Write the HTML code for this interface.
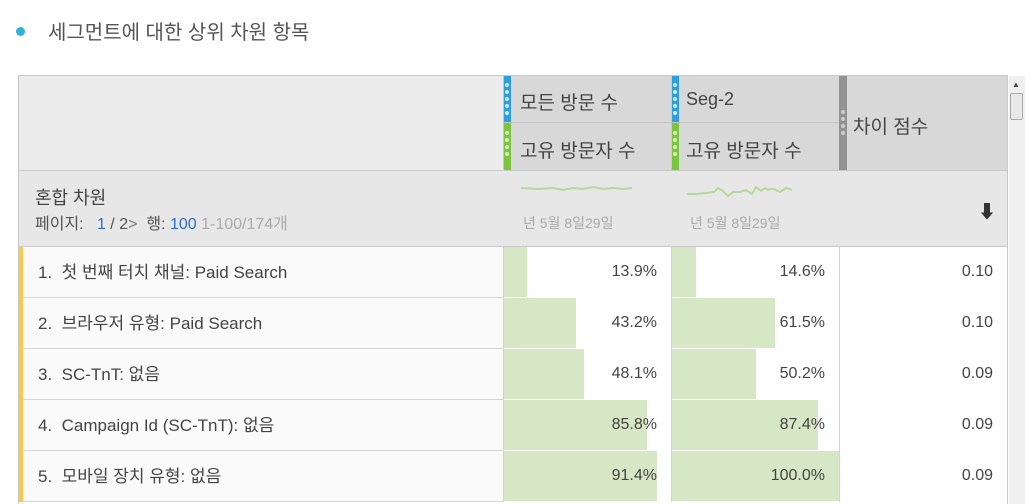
<!DOCTYPE html>
<html><head><meta charset="utf-8">
<style>
body{margin:0;width:1029px;height:504px;overflow:hidden;background:#fff;font-family:"Liberation Sans","Noto Sans CJK KR",sans-serif;color:#4b4b4b;position:relative}
.abs{position:absolute}
.cell{position:absolute;box-sizing:border-box}
.dots{position:absolute;width:4px;}
.dots i{display:block;width:4px;height:4px;border-radius:50%;background:#cfe8ff;margin-bottom:3px}
</style></head><body>
<div class="abs" style="left:16px;top:27px;width:9px;height:9px;border-radius:50%;background:#2fb5d3"></div>
<div class="abs" style="left:48px;top:16px;font-size:20px;color:#555">세그먼트에 대한 상위 차원 항목</div>
<div id="tbl" class="abs" style="left:18px;top:75px;width:990px;height:429px;border:1px solid #c8c8c8;border-bottom:none;box-sizing:border-box"></div>
<div class="cell" style="left:19px;top:76px;width:484px;height:94px;background:#ececec"></div>
<div class="cell" style="left:503px;top:76px;width:168px;height:94px;background:#d8d8d8;border-left:1px solid #c8c8c8"></div>
<div class="cell" style="left:671px;top:76px;width:168px;height:94px;background:#d8d8d8;border-left:1px solid #c8c8c8"></div>
<div class="cell" style="left:839px;top:76px;width:168px;height:94px;background:#d8d8d8;border-left:1px solid #c8c8c8"></div>
<div class="abs" style="left:503px;top:122px;width:336px;height:1px;background:#c4c4c4"></div>
<div class="abs" style="left:504px;top:76px;width:7px;height:46px;background:#2d9fdc"></div>
<div class="abs" style="left:504px;top:123px;width:7px;height:47px;background:#7cc63f"></div>
<div class="abs" style="left:672px;top:76px;width:7px;height:46px;background:#2d9fdc"></div>
<div class="abs" style="left:672px;top:123px;width:7px;height:47px;background:#7cc63f"></div>
<div class="abs" style="left:839px;top:76px;width:8px;height:94px;background:#939393"></div>
<div class="dots" style="left:505px;top:83px"><i></i><i></i><i></i><i></i><i></i></div>
<div class="dots" style="left:505px;top:131px"><i style="background:#d8f0c0"></i><i style="background:#d8f0c0"></i><i style="background:#d8f0c0"></i><i style="background:#d8f0c0"></i></div>
<div class="dots" style="left:673px;top:83px"><i></i><i></i><i></i><i></i><i></i></div>
<div class="dots" style="left:673px;top:131px"><i style="background:#d8f0c0"></i><i style="background:#d8f0c0"></i><i style="background:#d8f0c0"></i><i style="background:#d8f0c0"></i></div>
<div class="dots" style="left:841px;top:110px"><i style="background:#ccc"></i><i style="background:#ccc"></i><i style="background:#ccc"></i><i style="background:#ccc"></i></div>
<div class="abs" style="left:520px;top:88px;font-size:19px;color:#444">모든 방문 수</div>
<div class="abs" style="left:520px;top:136px;font-size:19px;color:#444">고유 방문자 수</div>
<div class="abs" style="left:686px;top:89px;font-size:18px;color:#444">Seg-2</div>
<div class="abs" style="left:686px;top:136px;font-size:19px;color:#444">고유 방문자 수</div>
<div class="abs" style="left:853px;top:112px;font-size:19px;color:#444">차이 점수</div>
<div class="cell" style="left:19px;top:170px;width:988px;height:77px;background:#e7e7e7;border-top:1px solid #c8c8c8;border-bottom:1px solid #c8c8c8"></div>
<div class="abs" style="left:35px;top:184px;font-size:18px;color:#444">혼합 차원</div>
<div class="abs" style="left:35px;top:210px;font-size:16px;color:#555;white-space:nowrap">페이지: &nbsp; <span style="color:#2d6fc8">1</span> / 2<span style="color:#777">&gt;</span> &nbsp;행: <span style="color:#2d6fc8">100</span> <span style="color:#aaa">1-100/174개</span></div>
<svg class="abs" style="left:518px;top:180px" width="300" height="20">
<polyline fill="none" stroke="#b5d99a" stroke-width="2" points="3,8 20,9 35,8 45,10 55,8 65,9 75,7 85,9 95,8 105,9 114,8"/>
<polyline fill="none" stroke="#b5d99a" stroke-width="2" points="169,14 178,14 188,13 196,12 200,8 205,11 210,16 215,12 222,12 228,10 234,14 238,7 243,11 247,8 250,10 252,9 256,9 262,12 268,8 274,10"/>
</svg>
<div class="abs" style="left:523px;top:213px;font-size:14px;color:#aaa">년 5월 8일29일</div>
<div class="abs" style="left:690px;top:213px;font-size:14px;color:#aaa">년 5월 8일29일</div>
<div class="abs" style="left:978px;top:198px;font-size:18px;color:#333">⬇</div>
<div id="rows"></div>
<div class="abs" style="left:1009px;top:76px;width:16px;height:428px;background:#f0f0f0"></div>
<div class="abs" style="left:1012px;top:80px;font-size:8px;color:#444">▲</div>
<div class="abs" style="left:1010px;top:93px;width:13px;height:27px;background:#e8e8e8;border:1px solid #aaa;border-radius:2px;box-sizing:border-box"></div>
<script>
const labels=["첫 번째 터치 채널: Paid Search","브라우저 유형: Paid Search","SC-TnT: 없음","Campaign Id (SC-TnT): 없음","모바일 장치 유형: 없음"];
const seg1=[13.9,43.2,48.1,85.8,91.4];
const seg2=[14.6,61.5,50.2,87.4,100.0];
const diff=["0.10","0.10","0.09","0.09","0.09"];
const rows=document.getElementById('rows');
const top0=247,rh=51,cw=168;
function mk(css){const d=document.createElement('div');d.className='cell';d.style.cssText=css;rows.appendChild(d);return d;}
labels.forEach((lab,i)=>{
  const y=top0+i*rh;
  const r=mk(`left:19px;top:${y}px;width:988px;height:${rh}px;background:#fafafa;border-bottom:1px solid #d4d4d4`);
  
  
  const acc=mk(`left:19px;top:${y}px;width:4px;height:${rh}px;background:#f8c94a`);
  
  
  const t=mk(`left:38px;top:${y+11}px;font-size:17px;color:#444;white-space:pre`);
  t.textContent=(i+1)+'.  '+lab;
  
  
  [[seg1,503],[seg2,671]].forEach(([arr,x],k)=>{
    const c=mk(`left:${x}px;top:${y}px;width:${cw}px;height:${rh}px;border-left:1px solid #d4d4d4;background:#fff`);
    
    
    const b=mk(`left:${x+1}px;top:${y}px;width:${(cw-1)*arr[i]/100}px;height:${rh-1}px;background:#d5e7c5`);
    
    
    const v=mk(`left:${x}px;top:${y+16}px;width:${cw-14}px;text-align:right;font-size:16px;color:#444`);
    v.textContent=arr[i].toFixed(1)+'%';
    
    
  });
  const d=mk(`left:839px;top:${y}px;width:168px;height:${rh}px;border-left:1px solid #d4d4d4;background:#fff`);
  
  
  const dv=mk(`left:839px;top:${y+16}px;width:154px;text-align:right;font-size:16px;color:#444`);
  dv.textContent=diff[i];
  
  
});
</script>
</body></html>
